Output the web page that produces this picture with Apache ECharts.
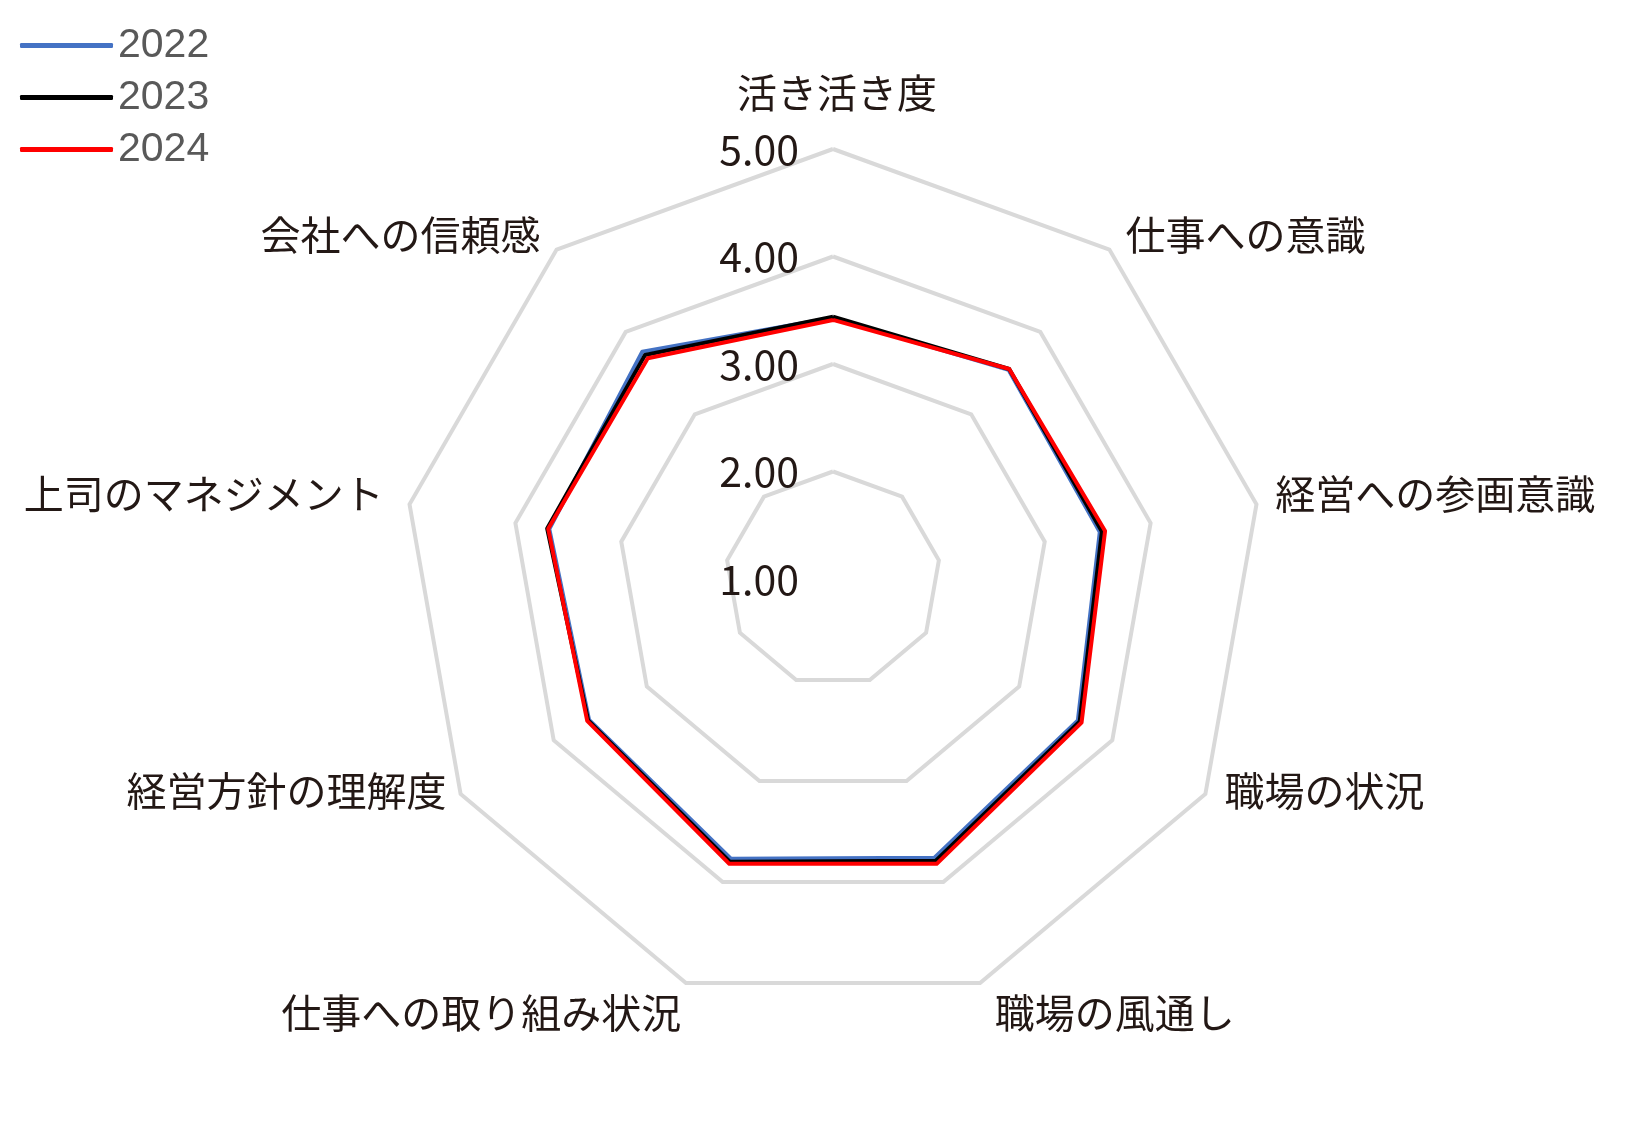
<!DOCTYPE html>
<html><head><meta charset="utf-8">
<script src="https://cdn.jsdelivr.net/npm/echarts@6/dist/echarts.min.js"></script>
<style>html,body{margin:0;padding:0;background:#fff}#c{width:1635px;height:1129px}</style>
</head><body><div id="c"></div>
<script>
const categories = ['活き活き度','仕事への意識','経営への参画意識','職場の状況','職場の風通し','仕事への取り組み状況','経営方針の理解度','上司のマネジメント','会社への信頼感'];
const years = ['2022','2023','2024'];
const values2022 = [3.43,3.54,3.52,3.63,3.76,3.77,3.62,3.68,3.76];
const values2023 = [3.44,3.55,3.54,3.65,3.79,3.80,3.63,3.70,3.72];
const values2024 = [3.41,3.55,3.57,3.67,3.82,3.82,3.64,3.69,3.68];
const tickLabels = ['1.00','2.00','3.00','4.00','5.00'];
const colors = ['#4472C4','#000000','#FF0000'];

// per-label fine offsets of the category names (padding: top, right, bottom, left)
const namePadding = [
  [0, 0, 22, 8],
  [0, 0, 8, 7],
  [0, 0, 17, 5],
  [0, 0, 21, 7],
  [34, 0, 0, 10],
  [34, 0, 0, 0],
  [0, 2, 21, 0],
  [0, 12, 17, 0],
  [0, 7, 8, 0]
];

// ECharts radar runs counter-clockwise; reorder so categories run clockwise from the top
const order = [0].concat(categories.map((_, i) => i).slice(1).reverse());
const reorder = arr => order.map(i => arr[i]);

const jpFont = '"Noto Sans CJK JP", "Noto Sans", sans-serif';
const indicator = reorder(categories).map((name, k) => {
  const ind = { name: name, min: 1, max: 5 };
  if (k === 0) {
    ind.axisLabel = { show: true };
  }
  return ind;
});

const rich = {};
namePadding.forEach((p, i) => {
  rich['n' + i] = { fontSize: 40, color: '#231815', fontFamily: jpFont, padding: p };
});

const seriesValues = [values2022, values2023, values2024];

const chart = echarts.init(document.getElementById('c'), null, { renderer: 'canvas' });
chart.setOption({
  backgroundColor: '#ffffff',
  animation: false,
  legend: {
    orient: 'vertical',
    left: 15,
    top: 20,
    itemWidth: 93,
    itemHeight: 5,
    itemGap: 11,
    icon: 'roundRect',
    data: years,
    textStyle: { fontSize: 41, color: '#595959', fontFamily: '"Liberation Sans", Arial, sans-serif' }
  },
  radar: {
    center: [833, 579],
    radius: 430,
    splitNumber: 4,
    shape: 'polygon',
    startAngle: 90,
    nameGap: 14,
    axisName: {
      color: '#231815', fontSize: 40, fontFamily: jpFont,
      formatter: function (name) { return '{n' + categories.indexOf(name) + '|' + name + '}'; },
      rich: rich
    },
    axisLine: { show: false },
    axisTick: { show: false },
    splitArea: { show: false },
    splitLine: { lineStyle: { color: '#d9d9d9', width: 4 } },
    axisLabel: {
      show: false,
      margin: 34,
      fontSize: 41,
      color: '#231815',
      fontFamily: jpFont,
      formatter: function (v) { return tickLabels[Math.round(v) - 1]; }
    },
    indicator: indicator
  },
  series: [{
    type: 'radar',
    symbol: 'none',
    data: years.map((y, i) => ({
      name: y,
      value: reorder(seriesValues[i]),
      lineStyle: { color: colors[i], width: 4 },
      itemStyle: { color: colors[i] }
    }))
  }]
});
</script></body></html>
